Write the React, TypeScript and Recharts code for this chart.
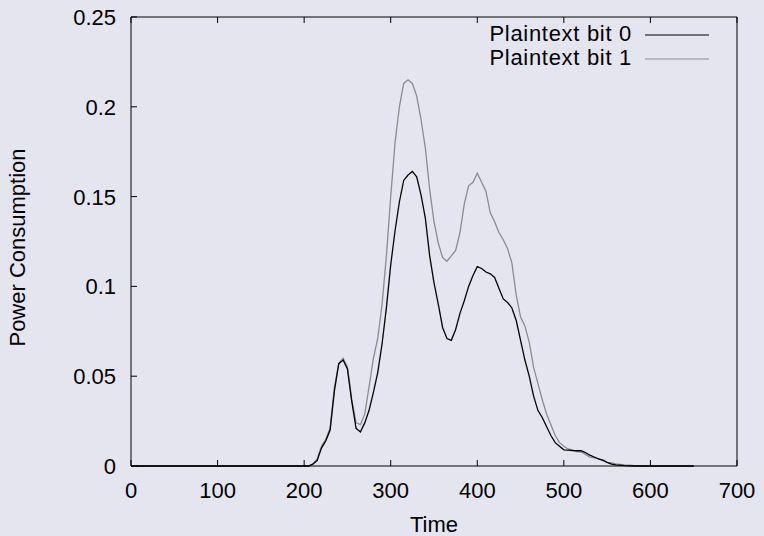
import { Legend, Line, LineChart, XAxis, YAxis } from "recharts";

const times = [
  0, 100, 200, 205, 210, 215, 220, 225, 230, 235, 240, 245, 250, 255, 260, 265, 270, 275, 280, 285,
  290, 295, 300, 305, 310, 315, 320, 325, 330, 335, 340, 345, 350, 355, 360, 365, 370, 375, 380, 385,
  390, 395, 400, 405, 410, 415, 420, 425, 430, 435, 440, 445, 450, 455, 460, 465, 470, 475, 480, 485,
  490, 495, 500, 505, 510, 515, 520, 525, 530, 535, 540, 545, 550, 555, 560, 570, 580, 600, 650,
];

const bit0 = [
  0, 0, 0, 0, 0.001, 0.003, 0.01, 0.014, 0.02, 0.042, 0.057, 0.059, 0.054, 0.036, 0.021, 0.019, 0.024,
  0.031, 0.041, 0.052, 0.068, 0.088, 0.112, 0.131, 0.147, 0.159, 0.162, 0.164, 0.161, 0.151, 0.138,
  0.117, 0.102, 0.09, 0.077, 0.071, 0.07, 0.076, 0.085, 0.092, 0.1, 0.106, 0.111, 0.11, 0.108, 0.107,
  0.105, 0.099, 0.093, 0.091, 0.088, 0.081, 0.07, 0.059, 0.05, 0.039, 0.031, 0.027, 0.022, 0.017,
  0.013, 0.011, 0.009, 0.0088, 0.0086, 0.0085, 0.0085, 0.0075, 0.006, 0.005, 0.004, 0.0033, 0.002,
  0.001, 0.0006, 0.0002, 0, 0, 0,
];

const bit1 = [
  0, 0, 0, 0, 0.001, 0.004, 0.011, 0.015, 0.021, 0.044, 0.057, 0.06, 0.055, 0.037, 0.024, 0.023, 0.029,
  0.044, 0.06, 0.071, 0.09, 0.117, 0.15, 0.18, 0.2, 0.213, 0.215, 0.213, 0.206, 0.193, 0.177, 0.154,
  0.136, 0.124, 0.116, 0.114, 0.117, 0.12, 0.13, 0.146, 0.156, 0.158, 0.163, 0.158, 0.153, 0.141,
  0.136, 0.13, 0.126, 0.121, 0.113, 0.095, 0.083, 0.078, 0.069, 0.055, 0.046, 0.037, 0.029, 0.023,
  0.017, 0.013, 0.011, 0.0095, 0.009, 0.008, 0.0078, 0.0065, 0.005, 0.0045, 0.004, 0.003, 0.002,
  0.0017, 0.0012, 0.0006, 0.0003, 0, 0,
];

const xTicks = [0, 100, 200, 300, 400, 500, 600, 700];
const yTicks = [0, 0.05, 0.1, 0.15, 0.2, 0.25];
const seriesNames = ["Plaintext bit 0", "Plaintext bit 1"];
const seriesColors = ["#000000", "#8c8c8c"];

const data = times.map((t, i) => ({ t, bit0: bit0[i], bit1: bit1[i] }));

const FONT = "'Liberation Sans', Arial, sans-serif";
const TICK = 6;

function BottomTick({ x, y, payload }: any) {
  return (
    <g>
      <line x1={x} x2={x} y1={y} y2={y - TICK} stroke="#000" />
      <text x={x} y={y + 32} textAnchor="middle" fontSize={22} fontFamily={FONT} fill="#000">
        {payload.value}
      </text>
    </g>
  );
}

function LeftTick({ x, y, payload }: any) {
  return (
    <g>
      <line x1={x} x2={x + TICK} y1={y} y2={y} stroke="#000" />
      <text x={x - 15} y={y + 8} textAnchor="end" fontSize={22} fontFamily={FONT} fill="#000">
        {payload.value}
      </text>
    </g>
  );
}

function TopTick({ x, y }: any) {
  return <line x1={x} x2={x} y1={y} y2={y + TICK} stroke="#000" />;
}

function RightTick({ x, y }: any) {
  return <line x1={x} x2={x - TICK} y1={y} y2={y} stroke="#000" />;
}

function LegendContent() {
  return (
    <svg width={740} height={75} style={{ display: "block" }}>
      {seriesNames.map((name, i) => (
        <g key={name}>
          <text
            x={632}
            y={41 + i * 24}
            textAnchor="end"
            fontSize={22}
            letterSpacing={0.7}
            fontFamily={FONT}
            fill="#000"
          >
            {name}
          </text>
          <line
            x1={645}
            x2={709}
            y1={35 + i * 24}
            y2={35 + i * 24}
            stroke={seriesColors[i]}
            strokeWidth={1.2}
          />
        </g>
      ))}
    </svg>
  );
}

export default function App() {
  return (
    <div
      style={{
        position: "absolute",
        left: 0,
        top: 0,
        width: 764,
        height: 536,
        background: "#e5e5f0",
      }}
    >
      <LineChart width={764} height={536} data={data} margin={{ top: 16, right: 26, bottom: 0, left: 0 }}>
        <XAxis
          type="number"
          dataKey="t"
          domain={[0, 700]}
          ticks={xTicks}
          interval={0}
          height={70}
          tickSize={0}
          tickMargin={0}
          tickLine={false}
          tick={<BottomTick />}
          stroke="#000"
          label={{
            content: ({ viewBox }: any) => (
              <text
                x={viewBox.x + viewBox.width / 2}
                y={viewBox.y + 66}
                textAnchor="middle"
                fontSize={22}
                fontFamily={FONT}
                fill="#000"
              >
                Time
              </text>
            ),
          }}
        />
        <XAxis
          xAxisId="top"
          orientation="top"
          type="number"
          dataKey="t"
          domain={[0, 700]}
          ticks={xTicks}
          interval={0}
          height={1}
          tickSize={0}
          tickMargin={0}
          tickLine={false}
          tick={<TopTick />}
          stroke="#000"
        />
        <YAxis
          type="number"
          domain={[0, 0.25]}
          ticks={yTicks}
          interval={0}
          width={131}
          tickSize={0}
          tickMargin={0}
          tickLine={false}
          tick={<LeftTick />}
          stroke="#000"
          label={{
            content: ({ viewBox }: any) => {
              const cx = 17;
              const cy = viewBox.y + viewBox.height / 2 + 6;
              return (
                <text
                  x={cx}
                  y={cy}
                  transform={`rotate(-90 ${cx} ${cy})`}
                  textAnchor="middle"
                  dominantBaseline="central"
                  fontSize={22}
                  fontFamily={FONT}
                  fill="#000"
                >
                  Power Consumption
                </text>
              );
            },
          }}
        />
        <YAxis
          yAxisId="right"
          orientation="right"
          type="number"
          domain={[0, 0.25]}
          ticks={yTicks}
          interval={0}
          width={1}
          tickSize={0}
          tickMargin={0}
          tickLine={false}
          tick={<RightTick />}
          stroke="#000"
        />
        <Legend verticalAlign="middle" wrapperStyle={{ left: 0, top: 0 }} content={<LegendContent />} />
        <Line
          type="linear"
          dataKey="bit1"
          stroke={seriesColors[1]}
          strokeWidth={1.3}
          dot={false}
          isAnimationActive={false}
        />
        <Line
          type="linear"
          dataKey="bit0"
          stroke={seriesColors[0]}
          strokeWidth={1.3}
          dot={false}
          isAnimationActive={false}
        />
      </LineChart>
    </div>
  );
}
